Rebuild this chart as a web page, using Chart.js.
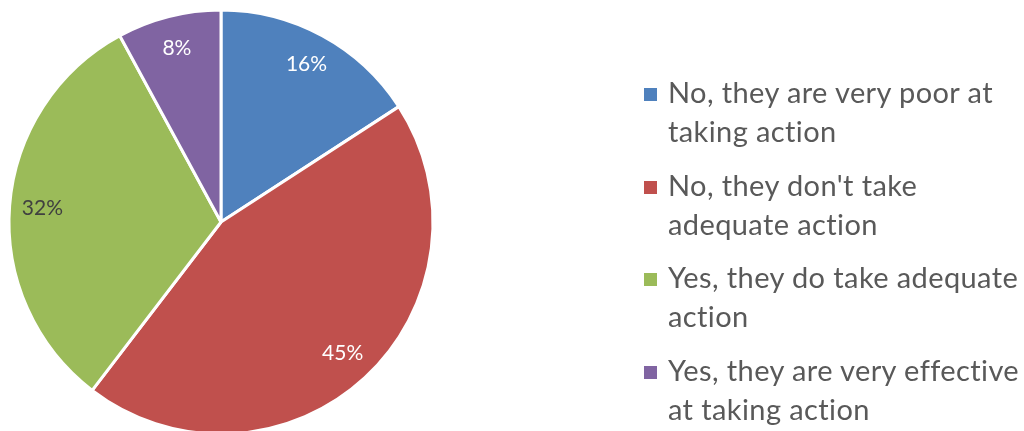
<!DOCTYPE html>
<html>
<head>
<meta charset="utf-8">
<script src="https://cdn.jsdelivr.net/npm/chart.js@4.4.1/dist/chart.umd.min.js"></script>
<style>
  html, body { margin: 0; padding: 0; background: #fff; overflow: hidden; }
  #contenedor { position: relative; width: 1024px; height: 431px; overflow: hidden; }
  #grafico { position: absolute; left: 0; top: 0; }
  #leyenda { position: absolute; left: 0; top: 0; font-family: Lato, sans-serif; font-size: 29px; letter-spacing: 0.4px; color: #595959; }
  .item { position: absolute; left: 668px; width: 356px; line-height: 39px; white-space: nowrap; }
  .cuadro { position: absolute; left: -24px; top: 16px; width: 13px; height: 13px; }
</style>
</head>
<body>
<div id="contenedor">
  <canvas id="grafico" width="1024" height="440"></canvas>
  <div id="leyenda"></div>
</div>
<script>
// DATOS
const categorias = [
  ['No, they are very poor at', 'taking action'],
  ["No, they don't take", 'adequate action'],
  ['Yes, they do take adequate', 'action'],
  ['Yes, they are very effective', 'at taking action']
];
const porcentajes = [16, 45, 32, 8];
const colores = ['#4F81BD', '#C0504D', '#9BBB59', '#8064A2'];
const coloresEtiqueta = ['#ffffff', '#ffffff', '#404040', '#ffffff'];

// Etiquetas de porcentaje dentro de cada sector
const etiquetasSectores = {
  id: 'etiquetasSectores',
  afterDatasetsDraw(chart) {
    const ctx = chart.ctx;
    const meta = chart.getDatasetMeta(0);
    ctx.save();
    ctx.font = '21px Lato, sans-serif';
    ctx.textAlign = 'center';
    ctx.textBaseline = 'middle';
    meta.data.forEach((arc, i) => {
      const { x, y, startAngle, endAngle, outerRadius } = arc.getProps(['x', 'y', 'startAngle', 'endAngle', 'outerRadius'], true);
      const medio = (startAngle + endAngle) / 2;
      const r = outerRadius * 0.845;
      ctx.fillStyle = coloresEtiqueta[i];
      ctx.fillText(porcentajes[i] + '%', x + Math.cos(medio) * r, y + Math.sin(medio) * r);
    });
    ctx.restore();
  }
};

const grafico = new Chart(document.getElementById('grafico'), {
  type: 'pie',
  data: {
    labels: categorias.map(c => c.join(' ')),
    datasets: [{
      data: porcentajes,
      backgroundColor: colores,
      borderColor: '#ffffff',
      borderWidth: 3
    }]
  },
  options: {
    responsive: false,
    animation: false,
    layout: { padding: { left: 7.5, right: 589.5, top: 8.5, bottom: 4.5 } },
    plugins: {
      legend: { display: false },
      tooltip: { enabled: false }
    }
  },
  plugins: [etiquetasSectores]
});

// LEYENDA
const topes = [72, 164.5, 257, 349.5];
document.getElementById('leyenda').innerHTML = categorias.map((c, i) =>
  `<div class="item" style="top:${topes[i]}px"><span class="cuadro" style="background:${colores[i]}"></span>${c[0]}<br>${c[1]}</div>`
).join('');
</script>
</body>
</html>
